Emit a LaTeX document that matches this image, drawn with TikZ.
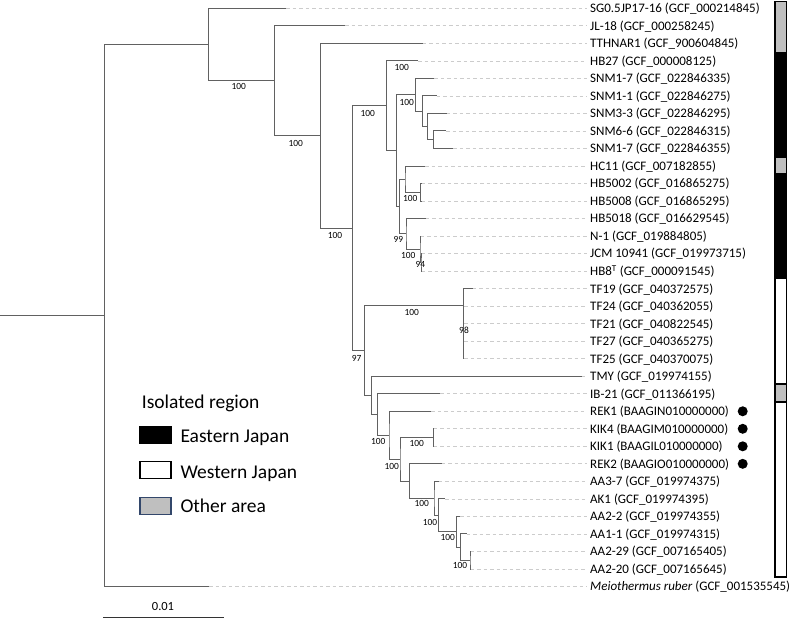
\documentclass[tikz,border=0pt]{standalone}
\usepackage{fontspec}
\setmainfont{Carlito}
\usepackage{tikz}
\usetikzlibrary{calc, positioning}

\definecolor{areagray}{HTML}{BFBFBF}
\definecolor{areaedge}{HTML}{33476B}

% joins two children (#3 above, #4 below) at a node #1 placed at x = #2
\newcommand{\clade}[4]{%
  \path let \p1 = ($(#3)!0.5!(#4)$) in coordinate (#1) at (#2pt,\y1);
  \draw[branch] (#3) -| (#1) |- (#4);
}

\tikzset{
  branch/.style={draw=black!62, line width=0.9pt},
  guide/.style={draw=black!20, line width=0.7pt, dash pattern=on 3.5pt off 3pt, shorten >=3pt},
  taxon/.style={anchor=base west, inner sep=0pt, font=\fontsize{13}{15}\selectfont},
  boot/.style={inner sep=0pt, font=\fontsize{9.4}{11}\selectfont},
  legendbox/.style={draw, line width=1.3pt, minimum width=31pt, minimum height=17pt, inner sep=0pt},
  legendtext/.style={anchor=base west, inner sep=0pt, font=\fontsize{19.5}{22}\selectfont},
  regdot/.style={circle, fill=black, inner sep=0pt, minimum size=10pt},
}

\begin{document}
\begin{tikzpicture}[x=1pt, y=-1pt]
  \useasboundingbox (0,0) rectangle (794,619);

  % 1. Tips and strain labels
  \foreach \tip/\lab [count=\i from 0] in {
      286/{SG0.5JP17-16 (GCF\_000214845)},
      345/{JL-18 (GCF\_000258245)},
      422.7/{TTHNAR1 (GCF\_900604845)},
      418/{HB27 (GCF\_000008125)},
      434.3/{SNM1-7 (GCF\_022846335)},
      436.7/{SNM1-1 (GCF\_022846275)},
      446.5/{SNM3-3 (GCF\_022846295)},
      446/{SNM6-6 (GCF\_022846315)},
      453.3/{SNM1-7 (GCF\_022846355)},
      425/{HC11 (GCF\_007182855)},
      421.5/{HB5002 (GCF\_016865275)},
      421.5/{HB5008 (GCF\_016865295)},
      425.5/{HB5018 (GCF\_016629545)},
      420.5/{N-1 (GCF\_019884805)},
      421.5/{JCM 10941 (GCF\_019973715)},
      421.5/{HB8\textsuperscript{T} (GCF\_000091545)},
      472.7/{TF19 (GCF\_040372575)},
      464/{TF24 (GCF\_040362055)},
      464/{TF21 (GCF\_040822545)},
      464/{TF27 (GCF\_040365275)},
      464/{TF25 (GCF\_040370075)},
      581.7/{TMY (GCF\_019974155)},
      440/{IB-21 (GCF\_011366195)},
      431/{REK1 (BAAGIN010000000)},
      433.8/{KIK4 (BAAGIM010000000)},
      433.8/{KIK1 (BAAGIL010000000)},
      441.7/{REK2 (BAAGIO010000000)},
      438.5/{AA3-7 (GCF\_019974375)},
      445/{AK1 (GCF\_019974395)},
      460/{AA2-2 (GCF\_019974355)},
      466.7/{AA1-1 (GCF\_019974315)},
      470.5/{AA2-29 (GCF\_007165405)},
      470.5/{AA2-20 (GCF\_007165645)},
      209/{\textit{Meiothermus ruber} (GCF\_001535545)}} {
    \coordinate (t\i) at (\tip, 8.3+17.52*\i);
    \node[taxon] (l\i) at (590, 12.7+17.52*\i) {\lab};
    \draw[guide] (t\i) -- (t\i -| l\i.west);
  }

  % 2. Tree, from the tips to the root
  \clade{aa5}{470}{t31}{t32}
  \clade{aa4}{460.7}{t30}{aa5}
  \clade{aa3}{456.7}{t29}{aa4}
  \clade{aa2}{438.3}{t28}{aa3}
  \clade{aa1}{434}{t27}{aa2}
  \clade{rek2}{409.3}{t26}{aa1}
  \clade{kik}{433.3}{t24}{t25}
  \clade{rek}{400}{kik}{rek2}
  \clade{rek1}{389}{t23}{rek}
  \clade{ib}{377.7}{t22}{rek1}
  \clade{tmy}{371.7}{t21}{ib}
  \clade{tf4}{463.3}{t19}{t20}
  \clade{tf3}{463.3}{t18}{tf4}
  \clade{tf2}{463.3}{t17}{tf3}
  \clade{tf1}{463.3}{t16}{tf2}
  \clade{west}{364.3}{tf1}{tmy}
  \clade{hb8b}{421}{t14}{t15}
  \clade{hb8a}{420}{t13}{hb8b}
  \clade{hb5018}{406}{t12}{hb8a}
  \clade{hb5002}{420.7}{t10}{t11}
  \clade{hc11}{405}{t9}{hb5002}
  \clade{hbs}{399.3}{hc11}{hb5018}
  \clade{snm4}{433.3}{t7}{t8}
  \clade{snm3}{427.7}{t6}{snm4}
  \clade{snm2}{422.7}{t5}{snm3}
  \clade{snm1}{415.7}{t4}{snm2}
  \clade{east}{396.7}{snm1}{hbs}
  \clade{hb27}{386.7}{t3}{east}
  \clade{japan}{352.3}{hb27}{west}
  \clade{tthnar}{320.7}{t2}{japan}
  \clade{jl}{274.3}{t1}{tthnar}
  \clade{sg}{208.3}{t0}{jl}
  \clade{root}{104.3}{sg}{t33}
  \coordinate (stem) at (0,0 |- root);
  \draw[branch] (stem) -- (root);

  % 3. Bootstrap values
  \foreach \bx/\by/\bv [count=\k] in {
      238.7/86.7/100, 295.7/143.3/100, 335/235.7/100, 356.7/358.3/97,
      367.7/113.3/100, 401.7/67.3/100, 406.7/102.7/100, 410.3/198.3/100,
      398.3/239.3/99, 408.3/255/100, 420.3/264.7/94, 411.7/312.3/100,
      464/330.7/98, 378.3/441.7/100, 391.7/466/100, 416.7/443.3/100,
      421.7/503.3/100, 430/522.3/100, 447.7/537.3/100, 460/565.7/100} {
    \node[boot] (bs\k) at (\bx,\by) {\bv};
  }

  % 4. Strains marked with a dot
  \foreach \r in {23,...,26} {
    \node[regdot] (d\r) at (742.7, 8.3+17.52*\r) {};
  }

  % 5. Region bar
  \foreach \top/\bot/\col in {1.7/53/areagray, 53/157.5/black, 157.5/174/areagray,
      174/278/black, 278/384/white, 384/402/areagray, 402/577/white} {
    \draw[line width=1.4pt, fill=\col] (775,\top) rectangle (786.5,\bot);
  }

  % 6. Legend
  \node[legendtext] (legtitle) at (141.7,408.3) {Isolated region};
  \node[legendbox, fill=black] (keyEast) at (155.5,435.2) {};
  \node[legendbox, fill=white] (keyWest) at (155.5,470.2) {};
  \node[legendbox, fill=areagray, draw=areaedge] (keyOther) at (155.5,505.8) {};
  \node[legendtext] (txtEast) at (180.3,442.7) {Eastern Japan};
  \node[legendtext] (txtWest) at (180.3,478.3) {Western Japan};
  \node[legendtext] (txtOther) at (180.3,512.7) {Other area};

  % 7. Scale bar
  \coordinate (sbL) at (103.3,617.8);
  \coordinate (sbR) at (224,617.8);
  \draw[line width=1pt, black!80] (sbL) -- (sbR);
  \node[inner sep=0pt, font=\fontsize{12.5}{14}\selectfont] (sbLab) at (163,606) {0.01};
\end{tikzpicture}
\end{document}
